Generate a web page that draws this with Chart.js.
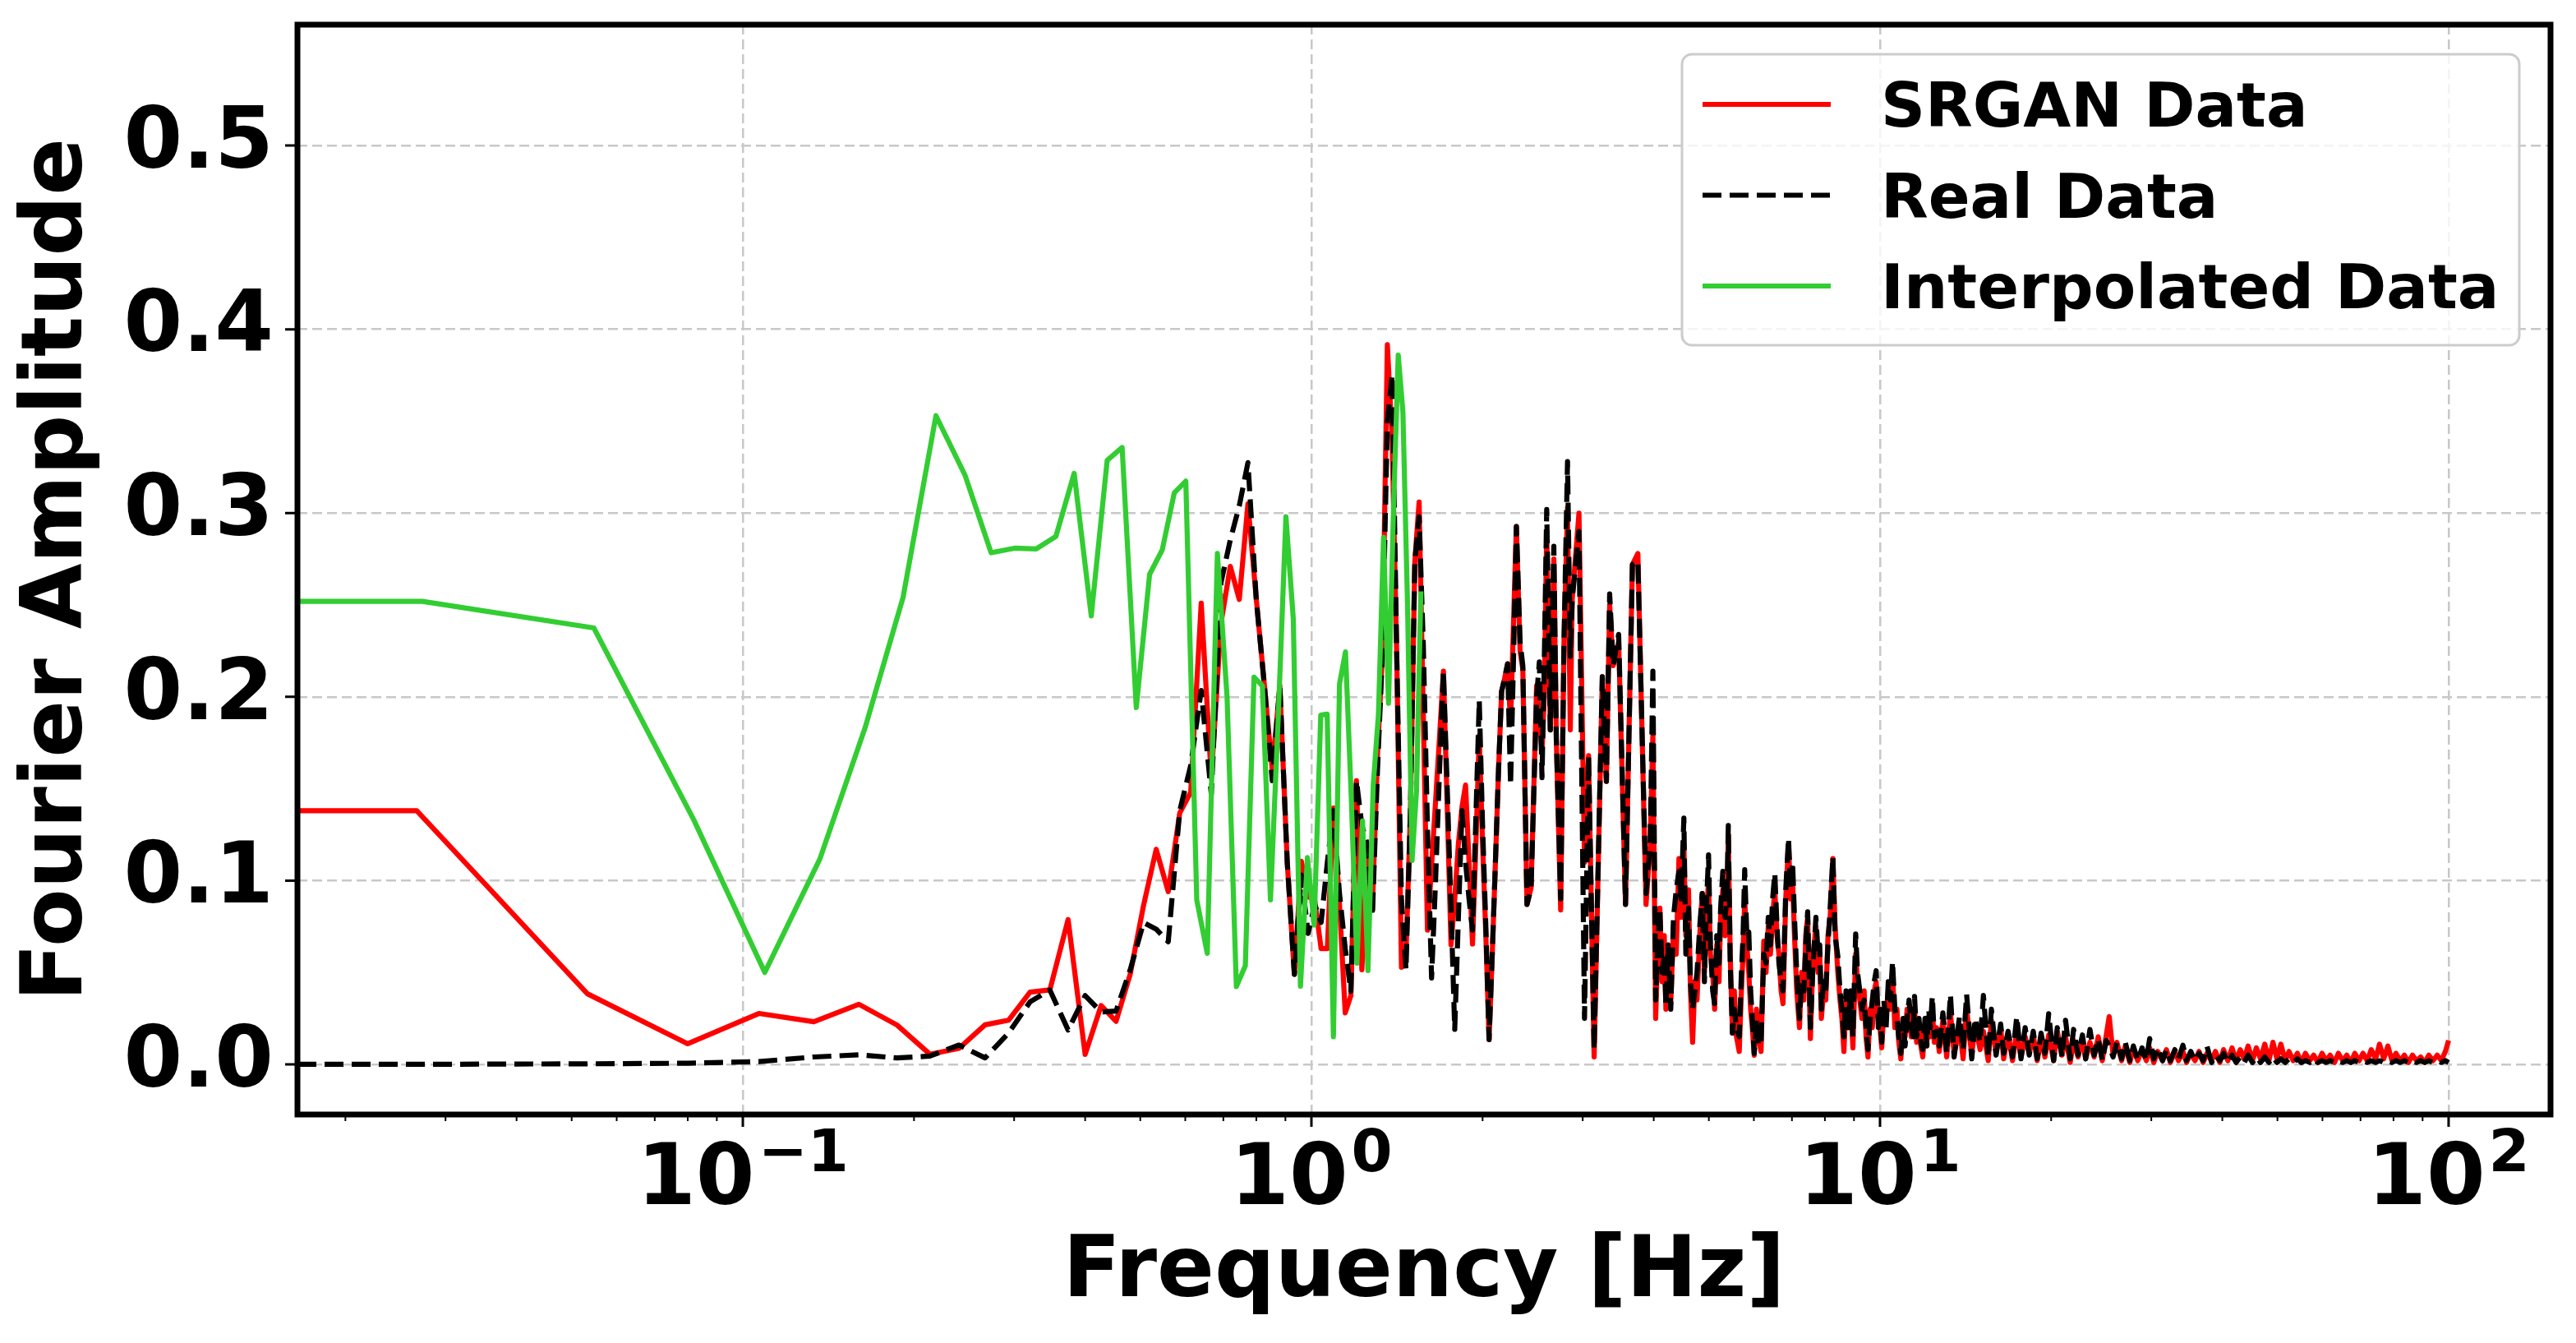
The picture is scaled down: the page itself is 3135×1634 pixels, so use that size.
<!DOCTYPE html>
<html><head><meta charset="utf-8">
<script src="https://cdn.jsdelivr.net/npm/chart.js@4.4.1/dist/chart.umd.min.js"></script>
<style>html,body{margin:0;padding:0;background:#fff;}canvas{display:block;}</style>
</head><body>
<canvas id="c" width="3135" height="1634"></canvas>
<script>
// ---------------- data ----------------
// SRGAN / Real spectra: frequency grid below 2.3 Hz (first bin = 0 Hz)
const freqLow = [0,0.0267,0.0533,0.08,0.1067,0.1333,0.16,0.1867,0.2133,0.24,
  0.2667,0.2933,0.32,0.3467,0.3733,0.4,0.4267,0.4533,0.48,0.5067,
  0.5333,0.56,0.5867,0.6133,0.64,0.6667,0.6933,0.72,0.7467,0.7733,
  0.8,0.8267,0.8533,0.88,0.9067,0.9333,0.96,0.9867,1.0133,1.04,
  1.0667,1.0933,1.12,1.1467,1.1733,1.2,1.2267,1.2533,1.28,1.3067,
  1.3333,1.36,1.3867,1.4133,1.44,1.4667,1.4933,1.52,1.5467,1.5733,
  1.6,1.6267,1.6533,1.68,1.7067,1.7333,1.76,1.7867,1.8133,1.84,
  1.8667,1.8933,1.92,1.9467,1.9733,2.0,2.0267,2.0533,2.08,2.1067,
  2.1333,2.16,2.1867,2.2133,2.24,2.2667,2.2933];
const srganLow = [0.138,0.138,0.0384,0.0112,0.0277,0.0232,0.0327,0.0214,0.0055,0.0087,
  0.0215,0.024,0.0393,0.0405,0.0788,0.0054,0.032,0.0234,0.049,0.0865,
  0.117,0.094,0.1368,0.148,0.251,0.1556,0.24,0.271,0.253,0.305,
  0.253,0.206,0.1603,0.206,0.11,0.049,0.1105,0.0912,0.0895,0.063,
  0.063,0.1395,0.088,0.028,0.0374,0.1544,0.0515,0.1165,0.084,0.168,
  0.2245,0.3916,0.34,0.22,0.0528,0.06,0.138,0.2737,0.306,0.19,
  0.073,0.108,0.143,0.178,0.214,0.14,0.065,0.09,0.12,0.14,
  0.152,0.11,0.0655,0.12,0.179,0.12,0.07,0.0135,0.06,0.11,
  0.16,0.203,0.21,0.218,0.185,0.24,0.2927];
const realLow = [0,0,0.0003,0.0006,0.0015,0.004,0.0052,0.0035,0.0045,0.0105,
  0.0035,0.017,0.034,0.0405,0.0187,0.0374,0.0285,0.029,0.0514,0.0771,
  0.0736,0.0667,0.138,0.1626,0.2035,0.147,0.262,0.2854,0.304,0.3275,
  0.2527,0.206,0.1544,0.206,0.11,0.049,0.103,0.0713,0.087,0.0772,
  0.11,0.138,0.0935,0.063,0.0398,0.1544,0.13,0.12,0.0807,0.16,
  0.2245,0.35,0.3753,0.22,0.0893,0.0515,0.138,0.2737,0.298,0.228,
  0.128,0.047,0.1,0.16,0.214,0.15,0.085,0.019,0.08,0.138,
  0.11,0.09,0.073,0.135,0.198,0.13,0.075,0.0135,0.06,0.11,
  0.16,0.203,0.21,0.218,0.152,0.22,0.2927];

// 2.3 - 4 Hz (peaks and troughs)
const freqMid = [2.328,2.354,2.394,2.434,2.489,2.517,2.544,2.567,2.593,2.631,
  2.669,2.696,2.744,2.781,2.821,2.853,2.875,2.955,3.022,3.072,
  3.142,3.248,3.302,3.346,3.394,3.470,3.568,3.669,3.751,3.877,
  3.942,3.986,4.031];
const srganMid = [0.225,0.215,0.087,0.096,0.206,0.190,0.170,0.200,0.290,0.182,
  0.275,0.177,0.084,0.230,0.303,0.182,0.253,0.300,0.110,0.168,
  0.004,0.211,0.154,0.250,0.217,0.230,0.087,0.272,0.278,0.087,
  0.119,0.180,0.025];
const realMid = [0.230,0.217,0.087,0.096,0.200,0.219,0.156,0.217,0.302,0.182,
  0.282,0.177,0.090,0.230,0.328,0.222,0.253,0.290,0.025,0.168,
  0.008,0.211,0.154,0.256,0.217,0.234,0.087,0.272,0.274,0.093,
  0.119,0.214,0.035];

// 4 - 12.7 Hz (dense oscillation)
const freqDense = [4.063,4.100,4.137,4.174,4.202,4.239,4.285,4.333,4.381,4.430,
  4.469,4.519,4.555,4.605,4.641,4.682,4.724,4.766,4.819,4.868,
  4.911,4.950,4.994,5.032,5.078,5.118,5.163,5.210,5.244,5.291,
  5.338,5.380,5.410,5.452,5.501,5.543,5.592,5.655,5.705,5.743,
  5.781,5.832,5.878,5.922,5.962,6.008,6.063,6.109,6.177,6.246,
  6.303,6.360,6.416,6.473,6.531,6.590,6.641,6.700,6.752,6.827,
  6.903,6.966,7.019,7.073,7.137,7.217,7.281,7.346,7.403,7.460,
  7.543,7.628,7.714,7.783,7.834,7.886,7.958,8.028,8.100,8.172,
  8.262,8.337,8.429,8.505,8.570,8.640,8.714,8.792,8.872,8.961,
  9.061,9.131,9.214,9.295,9.378,9.450,9.524,9.610,9.694,9.770,
  9.845,9.933,10.00,10.07,10.16,10.25,10.34,10.43,10.52,10.62,
  10.71,10.79,10.88,10.98,11.07,11.16,11.25,11.35,11.44,11.50,
  11.60,11.71,11.80,11.89,12.00,12.09,12.18,12.26,12.36,12.46,
  12.57,12.71];
const srganDense = [.060,.085,.045,.070,.030,.060,.033,.075,.060,.112,
  .080,.120,.070,.095,.040,.012,.045,.035,.070,.093,
  .050,.080,.100,.060,.050,.030,.065,.045,.080,.095,
  .070,.085,.125,.060,.017,.040,.015,.007,.040,.060,
  .090,.065,.050,.030,.020,.005,.030,.015,.007,.067,
  .050,.075,.060,.080,.095,.070,.060,.040,.033,.090,
  .120,.090,.100,.070,.040,.020,.050,.035,.070,.080,
  .014,.060,.075,.050,.060,.025,.040,.035,.070,.080,
  .112,.075,.050,.035,.025,.007,.035,.020,.035,.009,
  .060,.045,.035,.025,.040,.015,.004,.030,.020,.040,
  .045,.025,.020,.009,.030,.025,.040,.030,.050,.020,
  .030,.012,.003,.020,.015,.030,.028,.015,.020,.030,
  .012,.020,.010,.004,.020,.012,.025,.015,.030,.012,
  .020,.007];
const realDense = [.065,.085,.050,.060,.032,.065,.030,.080,.095,.105,
  .090,.134,.060,.085,.045,.030,.040,.050,.075,.093,
  .045,.085,.114,.065,.040,.033,.070,.055,.085,.105,
  .080,.090,.130,.055,.017,.030,.020,.015,.050,.070,
  .106,.070,.072,.040,.025,.006,.025,.010,.012,.060,
  .055,.080,.065,.090,.104,.075,.055,.045,.040,.095,
  .123,.095,.110,.080,.050,.025,.045,.040,.065,.083,
  .020,.055,.080,.060,.065,.030,.045,.040,.065,.085,
  .113,.070,.059,.040,.030,.015,.040,.020,.040,.015,
  .071,.050,.040,.030,.035,.020,.008,.025,.035,.045,
  .051,.020,.030,.012,.035,.020,.045,.035,.056,.030,
  .025,.015,.006,.025,.010,.025,.035,.020,.015,.037,
  .015,.025,.012,.008,.025,.010,.030,.020,.037,.015,
  .018,.010];

// 12.9 - 100 Hz (noise floor)
const freqHigh = [12.9,13.1,13.3,13.5,13.8,14.0,14.2,14.5,14.7,15.0,
  15.2,15.5,15.7,16.0,16.3,16.5,16.8,17.1,17.4,17.7,
  18.0,18.3,18.6,18.9,19.2,19.5,19.8,20.2,20.5,20.9,
  21.2,21.6,21.9,22.3,22.7,23.0,23.4,23.8,24.2,24.6,
  25.0,25.3,25.7,26.1,26.6,27.0,27.5,27.9,28.4,28.9,
  29.4,29.8,30.3,30.8,31.4,31.9,32.4,33.0,33.5,34.1,
  34.6,35.2,35.8,36.4,37.0,37.6,38.3,38.9,39.6,40.2,
  40.9,41.6,42.3,43.0,43.7,44.4,45.2,45.9,46.7,47.5,
  48.3,49.1,49.9,50.7,51.6,52.4,53.3,54.2,55.1,56.0,
  57.0,57.9,58.9,59.9,60.9,61.9,63.0,64.0,65.1,66.2,
  67.3,68.4,69.6,70.7,71.9,73.1,74.4,75.6,76.9,78.2,
  79.5,80.8,82.2,83.6,85.0,86.4,87.8,89.3,90.8,92.3,
  93.9,95.5,97.1,98.7,100.0];
const srganHigh = [.024,.004,.028,.006,.020,.003,.030,.005,.022,.008,
  .018,.002,.024,.006,.020,.003,.017,.002,.018,.004,
  .015,.006,.016,.002,.014,.004,.016,.002,.018,.005,
  .015,.001,.013,.004,.014,.003,.012,.004,.015,.002,
  .016,.026,.005,.012,.002,.010,.001,.009,.002,.008,
  .002,.009,.001,.007,.002,.008,.001,.007,.002,.007,
  .001,.006,.002,.007,.001,.006,.002,.007,.001,.008,
  .002,.009,.002,.008,.003,.010,.002,.009,.003,.011,
  .002,.012,.003,.011,.002,.007,.002,.006,.001,.006,
  .002,.005,.001,.006,.002,.005,.001,.006,.002,.005,
  .001,.006,.002,.006,.002,.008,.003,.011,.003,.010,
  .002,.006,.002,.005,.001,.005,.002,.004,.001,.005,
  .002,.005,.002,.007,.013];
const realHigh = [.028,.006,.038,.004,.026,.008,.038,.003,.025,.012,
  .0375,.004,.030,.005,.022,.006,.018,.004,.026,.003,
  .020,.005,.018,.003,.017,.006,.0276,.002,.020,.004,
  .024,.003,.019,.005,.016,.003,.019,.005,.014,.002,
  .013,.010,.004,.012,.003,.012,.002,.010,.002,.009,
  .002,.014,.003,.009,.002,.008,.002,.008,.003,.0104,
  .002,.007,.002,.006,.002,.0097,.001,.005,.002,.006,
  .001,.005,.001,.004,.001,.005,.001,.004,.001,.004,
  .001,.004,.001,.003,.001,.003,.001,.003,.001,.002,
  .001,.003,.001,.002,.001,.002,.001,.002,.001,.002,
  .001,.002,.001,.002,.001,.002,.001,.002,.001,.002,
  .001,.002,.001,.002,.001,.002,.001,.002,.001,.002,
  .001,.002,.001,.002,.001];

// Interpolated data (own frequency grid, first bin = 0 Hz)
const freqInterp = [0,0.0273,0.0547,0.0820,0.1093,0.1367,0.1640,0.1913,0.2186,0.2460,
  0.2733,0.3006,0.3280,0.3553,0.3826,0.4100,0.4373,0.4646,0.4920,0.5193,
  0.5466,0.5739,0.6013,0.6286,0.6559,0.6833,0.7106,0.7379,0.7652,0.7926,
  0.8199,0.8472,0.8746,0.9019,0.9292,0.9566,0.9839,1.0112,1.0385,1.0659,
  1.0932,1.1205,1.1479,1.1752,1.2025,1.2299,1.2572,1.2845,1.3119,1.3392,
  1.3665,1.3938,1.4212,1.4485,1.4758,1.5032,1.5305,1.5578];
const interpAmp = [0.252,0.252,0.2375,0.133,0.050,0.112,0.183,0.254,0.353,0.3205,
  0.2784,0.2809,0.2805,0.2873,0.3216,0.244,0.3287,0.3357,0.1941,0.2667,
  0.280,0.311,0.3174,0.0894,0.0604,0.278,0.200,0.0423,0.0537,0.2107,
  0.206,0.0895,0.190,0.298,0.2425,0.0425,0.1125,0.0758,0.190,0.1906,
  0.015,0.207,0.2245,0.145,0.055,0.1325,0.051,0.152,0.1905,0.2868,
  0.1965,0.300,0.386,0.355,0.250,0.111,0.149,0.2574];

// axes
const xMin = 0.01647, xMax = 151.1;
const yMin = -0.0273, yMax = 0.5658;
const yTickValues = [0, 0.1, 0.2, 0.3, 0.4, 0.5];
const yTickLabels = ['0.0', '0.1', '0.2', '0.3', '0.4', '0.5'];
const xMajorTicks = [0.1, 1, 10, 100];
const xMajorLabels = [['10', '\u22121'], ['10', '0'], ['10', '1'], ['10', '2']];
const xMinorTicks = [0.02,0.03,0.04,0.05,0.06,0.07,0.08,0.09,
  0.2,0.3,0.4,0.5,0.6,0.7,0.8,0.9, 2,3,4,5,6,7,8,9, 20,30,40,50,60,70,80,90];
const seriesLabels = ['SRGAN Data', 'Real Data', 'Interpolated Data'];

// ---------------- build ----------------
function pts(f, a) {
  const out = [];
  const n = Math.min(f.length, a.length);
  for (let i = 0; i < n; i++) out.push({x: f[i], y: a[i]});
  return out;
}
const srganPts = [].concat(pts(freqLow, srganLow), pts(freqMid, srganMid), pts(freqDense, srganDense), pts(freqHigh, srganHigh));
const realPts = [].concat(pts(freqLow, realLow), pts(freqMid, realMid), pts(freqDense, realDense), pts(freqHigh, realHigh));
const interpPts = pts(freqInterp, interpAmp);

const FONT = '"DejaVu Sans", "Liberation Sans", sans-serif';
const gridColor = '#c8c8c8';
const LINE_W = 6.2;
const xTickValues = xMajorTicks.concat(xMinorTicks).sort((a, b) => a - b);

function roundRectPath(ctx, x, y, w, h, r) {
  ctx.beginPath();
  ctx.moveTo(x + r, y);
  ctx.lineTo(x + w - r, y);
  ctx.arcTo(x + w, y, x + w, y + r, r);
  ctx.lineTo(x + w, y + h - r);
  ctx.arcTo(x + w, y + h, x + w - r, y + h, r);
  ctx.lineTo(x + r, y + h);
  ctx.arcTo(x, y + h, x, y + h - r, r);
  ctx.lineTo(x, y + r);
  ctx.arcTo(x, y, x + r, y, r);
  ctx.closePath();
}

const decor = {
  id: 'decor',
  afterDatasetsDraw(chart) {
    const {ctx, chartArea: a} = chart;
    const xs = chart.scales.x, ys = chart.scales.y;
    ctx.save();
    // frame
    ctx.strokeStyle = '#000';
    ctx.lineWidth = 7;
    ctx.setLineDash([]);
    ctx.strokeRect(a.left, a.top, a.right - a.left, a.bottom - a.top);
    // tick marks
    ctx.lineWidth = 3;
    ctx.beginPath();
    yTickValues.forEach(v => { const p = ys.getPixelForValue(v); ctx.moveTo(a.left - 15, p); ctx.lineTo(a.left, p); });
    xMajorTicks.forEach(v => { const p = xs.getPixelForValue(v); ctx.moveTo(p, a.bottom); ctx.lineTo(p, a.bottom + 15); });
    ctx.stroke();
    ctx.lineWidth = 2;
    ctx.beginPath();
    xMinorTicks.forEach(v => { const p = xs.getPixelForValue(v); ctx.moveTo(p, a.bottom); ctx.lineTo(p, a.bottom + 8); });
    ctx.stroke();
    // x tick labels (10 with superscript exponent)
    ctx.fillStyle = '#000';
    ctx.textBaseline = 'alphabetic';
    ctx.textAlign = 'left';
    xMajorTicks.forEach((v, i) => {
      const base = xMajorLabels[i][0], exp = xMajorLabels[i][1];
      ctx.font = 'bold 103px ' + FONT;
      const wb = ctx.measureText(base).width;
      ctx.font = 'bold 72px ' + FONT;
      const we = ctx.measureText(exp).width;
      const p = xs.getPixelForValue(v);
      const x0 = p - (wb + we + 4) / 2;
      ctx.font = 'bold 103px ' + FONT;
      ctx.fillText(base, x0, a.bottom + 109);
      ctx.font = 'bold 72px ' + FONT;
      ctx.fillText(exp, x0 + wb + 4, a.bottom + 69);
    });
    // legend
    const lw = 1019, lh = 354;
    const lx = a.right - 38 - lw, ly = a.top + 36;
    roundRectPath(ctx, lx, ly, lw, lh, 12);
    ctx.fillStyle = 'rgba(255,255,255,0.8)';
    ctx.fill();
    ctx.strokeStyle = '#cccccc';
    ctx.lineWidth = 3;
    ctx.stroke();
    chart.data.datasets.forEach((ds, i) => {
      const yy = ly + 61 + i * 110.5;
      ctx.beginPath();
      ctx.setLineDash(ds.borderDash || []);
      ctx.strokeStyle = ds.borderColor;
      ctx.lineWidth = ds.borderWidth;
      ctx.moveTo(lx + 25, yy);
      ctx.lineTo(lx + 181, yy);
      ctx.stroke();
      ctx.setLineDash([]);
      ctx.fillStyle = '#000';
      ctx.font = 'bold 75px ' + FONT;
      ctx.fillText(ds.label, lx + 242, yy + 27);
    });
    ctx.restore();
  }
};

new Chart(document.getElementById('c'), {
  type: 'line',
  data: {
    datasets: [
      {label: seriesLabels[0], data: srganPts, borderColor: '#ff0000', borderWidth: LINE_W, order: 3},
      {label: seriesLabels[1], data: realPts, borderColor: '#000000', borderWidth: LINE_W, borderDash: [23, 10], order: 2},
      {label: seriesLabels[2], data: interpPts, borderColor: '#32cd32', borderWidth: LINE_W, order: 1}
    ]
  },
  options: {
    responsive: false,
    animation: false,
    devicePixelRatio: 1,
    events: [],
    layout: {padding: {top: 30, right: 31, bottom: 0, left: 0}},
    plugins: {legend: {display: false}, tooltip: {enabled: false}},
    elements: {
      point: {radius: 0},
      line: {tension: 0, borderJoinStyle: 'round', fill: false}
    },
    scales: {
      x: {
        type: 'logarithmic', position: 'bottom', min: xMin, max: xMax,
        afterBuildTicks(s) { s.ticks = xTickValues.map(v => ({value: v})); },
        afterFit(s) { s.height = 278; s.paddingLeft = 0; s.paddingRight = 0; },
        ticks: {display: false},
        grid: {
          color: c => (c.tick && xMajorTicks.includes(c.tick.value)) ? gridColor : 'rgba(0,0,0,0)',
          lineWidth: 2.5, drawTicks: false
        },
        border: {display: false, dash: [12, 6]},
        title: {display: true, text: 'Frequency [Hz]', color: '#000',
          font: {family: FONT, size: 103, weight: 'bold'}, padding: {top: 0, bottom: 22}}
      },
      y: {
        type: 'linear', position: 'left', min: yMin, max: yMax,
        afterBuildTicks(s) { s.ticks = yTickValues.map(v => ({value: v})); },
        afterFit(s) { s.width = 362; s.paddingTop = 0; s.paddingBottom = 0; },
        ticks: {color: '#000', font: {family: FONT, size: 103, weight: 'bold'}, padding: 29,
          callback: (v, i) => yTickLabels[i]},
        grid: {color: gridColor, lineWidth: 2.5, drawTicks: false},
        border: {display: false, dash: [12, 6]},
        title: {display: true, text: 'Fourier Amplitude', color: '#000',
          font: {family: FONT, size: 103, weight: 'bold'}, padding: {top: 10, bottom: 0}}
      }
    }
  },
  plugins: [decor]
});
</script>
</body></html>
